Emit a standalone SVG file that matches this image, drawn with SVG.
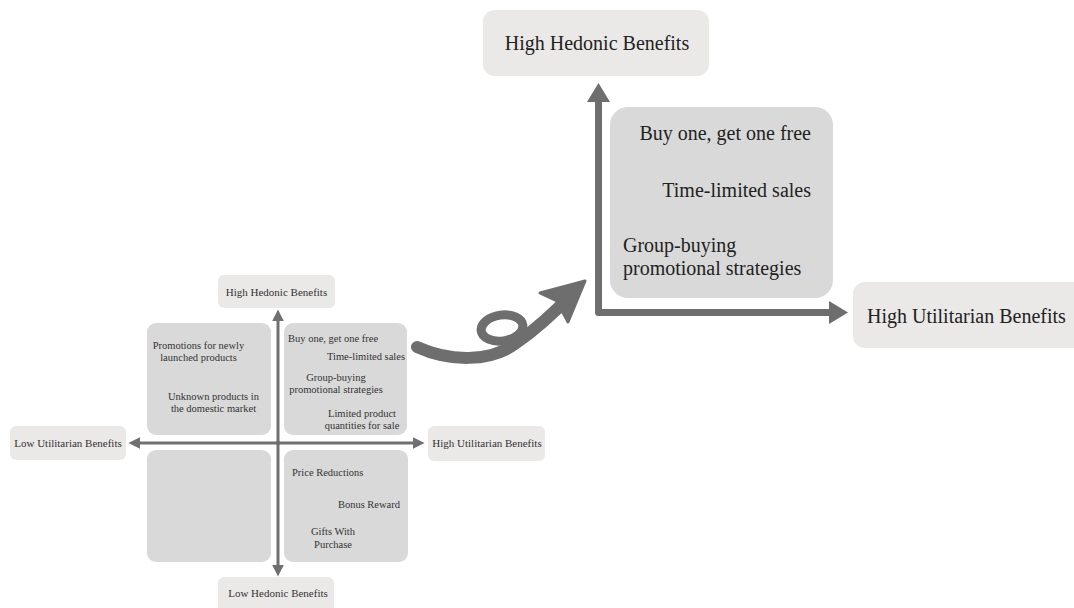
<svg xmlns="http://www.w3.org/2000/svg" width="1074" height="608" viewBox="0 0 1074 608">
<defs>
<style>
.q{fill:#d9d9d9}
.lb{fill:#ebe8e8}
.t{font-family:"Liberation Serif","Times New Roman",serif;fill:#333}
.s{font-size:10.5px}
.a{font-size:11px}
.b{font-size:20px;fill:#222}
.ax{stroke:#707070;stroke-width:3;fill:none}
.bx{stroke:#6e6e6e;stroke-width:7;fill:none}
</style>
<marker id="sa" viewBox="0 0 10 10" refX="2" refY="5" markerWidth="4" markerHeight="4" markerUnits="strokeWidth" orient="auto">
<path d="M0,0 L10,5 L0,10 z" fill="#707070"/>
</marker>
</defs>
<rect width="1074" height="608" fill="#fff"/>

<g id="connectors">
<line class="ax" x1="278" y1="445" x2="278" y2="319" marker-end="url(#sa)"/>
<line class="ax" x1="278" y1="441" x2="278" y2="567" marker-end="url(#sa)"/>
<line class="ax" x1="280" y1="443" x2="138" y2="443" marker-end="url(#sa)"/>
<line class="ax" x1="276" y1="443" x2="415" y2="443" marker-end="url(#sa)"/>
<path class="bx" d="M598.5,101 L598.5,312.5 L830,312.5" stroke-linejoin="round"/>
<path d="M587,102 L598.5,83 L610,102 z" fill="#6e6e6e"/>
<path d="M829,301 L848,312.5 L829,324 z" fill="#6e6e6e"/>
<ellipse cx="502" cy="328" rx="21" ry="13" transform="rotate(-8 502 328)" fill="none" stroke="#6e6e6e" stroke-width="9"/>
<path d="M417,347 C450,362 490,362 515,344 C535,330 555,312 574,292" fill="none" stroke="#6e6e6e" stroke-width="12" stroke-linecap="round" stroke-linejoin="round"/>
<path d="M585,281 L540,293 L557,301 L568,322 z" fill="#6e6e6e" stroke="#6e6e6e" stroke-width="3" stroke-linejoin="round"/>
</g>

<g id="q-top-left">
<rect class="q" x="147" y="323" width="124" height="112" rx="9"/>
<text class="t s" text-anchor="middle"><tspan x="198.5" y="349">Promotions for newly</tspan><tspan x="198.5" y="361">launched products</tspan><tspan x="213.5" y="400">Unknown products in</tspan><tspan x="213.5" y="412">the domestic market</tspan></text>
</g>
<g id="q-top-right">
<rect class="q" x="284" y="323" width="123" height="112" rx="9"/>
<text class="t s"><tspan x="288" y="342">Buy one, get one free</tspan></text>
<text class="t s" text-anchor="end"><tspan x="405" y="360">Time-limited sales</tspan></text>
<text class="t s" text-anchor="middle"><tspan x="336" y="381">Group-buying</tspan><tspan x="336" y="393">promotional strategies</tspan><tspan x="362" y="417">Limited product</tspan><tspan x="362" y="429">quantities for sale</tspan></text>
</g>
<g id="q-bottom-left">
<rect class="q" x="147" y="450" width="124" height="112" rx="9"/>
</g>
<g id="q-bottom-right">
<rect class="q" x="284" y="450" width="124" height="112" rx="9"/>
<text class="t s"><tspan x="292" y="476">Price Reductions</tspan></text>
<text class="t s" text-anchor="end"><tspan x="400" y="508">Bonus Reward</tspan></text>
<text class="t s" text-anchor="middle"><tspan x="333" y="535">Gifts With</tspan><tspan x="333" y="548">Purchase</tspan></text>
</g>

<g id="lbl-high-hedonic-small">
<rect class="lb" x="218" y="275" width="117" height="33" rx="6"/>
<text class="t a" x="276.5" y="296" text-anchor="middle">High Hedonic Benefits</text>
</g>
<g id="lbl-low-hedonic-small">
<rect class="lb" x="218" y="577" width="116" height="36" rx="6"/>
<text class="t a" x="278" y="597" text-anchor="middle">Low Hedonic Benefits</text>
</g>
<g id="lbl-low-util-small">
<rect class="lb" x="10" y="426" width="116" height="34" rx="6"/>
<text class="t a" x="68" y="447" text-anchor="middle">Low Utilitarian Benefits</text>
</g>
<g id="lbl-high-util-small">
<rect class="lb" x="428" y="426" width="117" height="35" rx="6"/>
<text class="t a" x="487" y="447" text-anchor="middle">High Utilitarian Benefits</text>
</g>

<g id="big-box">
<rect class="q" x="610" y="107" width="223" height="191" rx="18"/>
<text class="t b" text-anchor="end"><tspan x="811" y="140">Buy one, get one free</tspan><tspan x="811" y="197">Time-limited sales</tspan></text>
<text class="t b"><tspan x="623" y="252">Group-buying</tspan><tspan x="623" y="275">promotional strategies</tspan></text>
</g>
<g id="lbl-high-hedonic-big">
<rect class="lb" x="483" y="10" width="226" height="66" rx="12"/>
<text class="t b" x="597" y="50" text-anchor="middle">High Hedonic Benefits</text>
</g>
<g id="lbl-high-util-big">
<rect class="lb" x="853" y="282" width="235" height="66" rx="12"/>
<text class="t b" x="867" y="323">High Utilitarian Benefits</text>
</g>
</svg>
